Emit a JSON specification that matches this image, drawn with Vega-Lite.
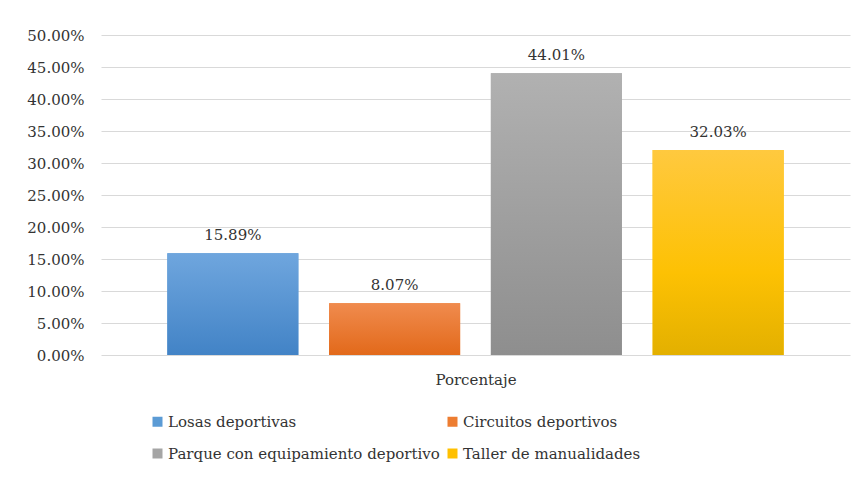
{
  "$schema": "https://vega.github.io/schema/vega-lite/v6.json",
  "autosize": "none",
  "width": 749,
  "height": 320,
  "padding": {"left": 101, "top": 35, "right": 11, "bottom": 123},
  "background": "white",
  "config": {
    "view": {"stroke": null},
    "font": "DejaVu Serif"
  },
  "data": {
    "values": [
      {"serie": "Losas deportivas", "valor": 0.1589},
      {"serie": "Circuitos deportivos", "valor": 0.0807},
      {"serie": "Parque con equipamiento deportivo", "valor": 0.4401},
      {"serie": "Taller de manualidades", "valor": 0.3203}
    ]
  },
  "encoding": {
    "x": {
      "field": "serie",
      "type": "nominal",
      "sort": null,
      "scale": {"paddingInner": 0.19, "paddingOuter": 0.41},
      "axis": {
        "labels": false, "ticks": false, "domain": false,
        "title": "Porcentaje", "titleFont": "DejaVu Serif", "titleFontSize": 15,
        "titleFontWeight": "normal", "titleColor": "#333333", "titlePadding": 17
      }
    },
    "y": {
      "field": "valor",
      "type": "quantitative",
      "scale": {"domain": [0, 0.5], "nice": false},
      "axis": {
        "title": null, "format": ".2%",
        "values": [0, 0.05, 0.1, 0.15, 0.2, 0.25, 0.3, 0.35, 0.4, 0.45, 0.5],
        "domain": false, "ticks": false, "labelPadding": 17,
        "labelFont": "DejaVu Serif", "labelFontSize": 15, "labelColor": "#333333",
        "gridColor": "#d9d9d9", "gridWidth": 1
      }
    }
  },
  "layer": [
    {
      "mark": {"type": "bar"},
      "encoding": {
        "color": {
          "field": "serie",
          "type": "nominal",
          "sort": null,
          "scale": {
            "domain": ["Losas deportivas", "Circuitos deportivos", "Parque con equipamiento deportivo", "Taller de manualidades"],
            "range": ["#5b9bd5", "#ed7d31", "#a5a5a5", "#ffc000"]
          },
          "legend": {
            "title": null, "orient": "none", "legendX": 49, "legendY": 379,
            "direction": "horizontal", "columns": 2, "columnPadding": 5, "rowPadding": 16,
            "symbolType": "square", "symbolSize": 100, "symbolStrokeWidth": 0,
            "labelFont": "DejaVu Serif", "labelFontSize": 15, "labelColor": "#333333",
            "labelOffset": 3, "labelLimit": 400
          }
        }
      }
    },
    {
      "transform": [{"filter": "datum.serie === 'Losas deportivas'"}],
      "mark": {"type": "bar", "color": {"gradient": "linear", "x1": 0, "y1": 0, "x2": 0, "y2": 1, "stops": [{"offset": 0, "color": "#6fa6de"}, {"offset": 1, "color": "#4283c6"}]}},
      "encoding": {}
    },
    {
      "transform": [{"filter": "datum.serie === 'Circuitos deportivos'"}],
      "mark": {"type": "bar", "color": {"gradient": "linear", "x1": 0, "y1": 0, "x2": 0, "y2": 1, "stops": [{"offset": 0, "color": "#f08b4e"}, {"offset": 1, "color": "#e2691a"}]}},
      "encoding": {}
    },
    {
      "transform": [{"filter": "datum.serie === 'Parque con equipamiento deportivo'"}],
      "mark": {"type": "bar", "color": {"gradient": "linear", "x1": 0, "y1": 0, "x2": 0, "y2": 1, "stops": [{"offset": 0, "color": "#b1b1b1"}, {"offset": 1, "color": "#8e8e8e"}]}},
      "encoding": {}
    },
    {
      "transform": [{"filter": "datum.serie === 'Taller de manualidades'"}],
      "mark": {"type": "bar", "color": {"gradient": "linear", "x1": 0, "y1": 0, "x2": 0, "y2": 1, "stops": [{"offset": 0, "color": "#ffc93f"}, {"offset": 0.6, "color": "#fdc103"}, {"offset": 1, "color": "#e3b000"}]}},
      "encoding": {}
    },
    {
      "mark": {"type": "text", "baseline": "bottom", "dy": -10, "font": "DejaVu Serif", "fontSize": 15, "color": "#333333"},
      "encoding": {
        "text": {"field": "valor", "type": "quantitative", "format": ".2%"}
      }
    }
  ]
}
